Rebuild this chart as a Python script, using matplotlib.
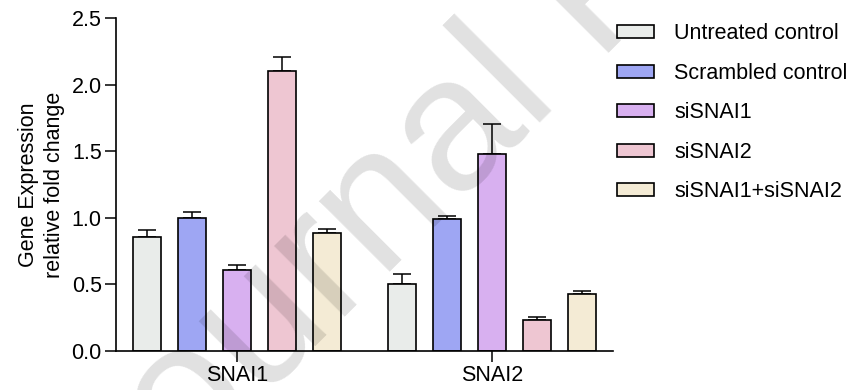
import numpy as np
import matplotlib
matplotlib.use("Agg")
import matplotlib.pyplot as plt

plt.rcParams['font.family'] = ['Liberation Sans', 'DejaVu Sans']

genes = ['SNAI1', 'SNAI2']
treatments = ['Untreated control', 'Scrambled control', 'siSNAI1',
              'siSNAI2', 'siSNAI1+siSNAI2']
colors = ['#E9ECEA', '#9EA6F3', '#D8B0F0', '#EEC6D2', '#F4EBD5']

# mean fold change and SEM, one row per treatment, columns = genes
means = [[0.86, 0.506],
         [1.00, 0.992],
         [0.61, 1.481],
         [2.105, 0.236],
         [0.885, 0.429]]
errs = [[0.047, 0.073],
        [0.048, 0.025],
        [0.035, 0.226],
        [0.103, 0.022],
        [0.032, 0.022]]

FS = 15.5

fig = plt.figure(figsize=(8.51, 3.9), dpi=100)
ax = fig.add_axes([0.136, 0.1, 0.584, 0.853])

group_x = np.array([0.0, 5.68])
width = 0.62
for i, name in enumerate(treatments):
    xs = group_x + (i - 2)
    ax.bar(xs, means[i], width, color=colors[i], edgecolor='black',
           linewidth=1.2, label=name, zorder=2)
    ax.errorbar(xs, means[i], yerr=[np.zeros(2), errs[i]], fmt='none',
                ecolor='black', elinewidth=1.1, capsize=6.5, capthick=1.1,
                zorder=1)

ax.set_xlim(-2.7, 8.36)
ax.set_ylim(0, 2.5)
ax.set_yticks([0, 0.5, 1.0, 1.5, 2.0, 2.5])
ax.set_yticklabels(['0.0', '0.5', '1.0', '1.5', '2.0', '2.5'])
ax.set_xticks(group_x)
ax.set_xticklabels(genes)
ax.tick_params(axis='both', labelsize=FS, width=1.1, length=8,
               colors='black', pad=2)
for side in ['top', 'right']:
    ax.spines[side].set_visible(False)
for side in ['left', 'bottom']:
    ax.spines[side].set_linewidth(1.2)

ax.set_ylabel('Gene Expression\nrelative fold change', fontsize=FS,
              labelpad=5, linespacing=1.3)

ax.legend(loc='upper left', bbox_to_anchor=(0.7245, 0.94),
          bbox_transform=fig.transFigure, frameon=False, fontsize=FS,
          handlelength=1.72, handleheight=0.56, handletextpad=0.95,
          labelspacing=0.86, borderaxespad=0, borderpad=0)

# faint diagonal watermark
fig.text(0.140, -0.392, 'Journal Pre-proof', fontsize=137, color='black',
         alpha=0.12, rotation=45, rotation_mode='anchor', ha='left',
         va='baseline', zorder=10)

fig.savefig('out.png', dpi=100)
